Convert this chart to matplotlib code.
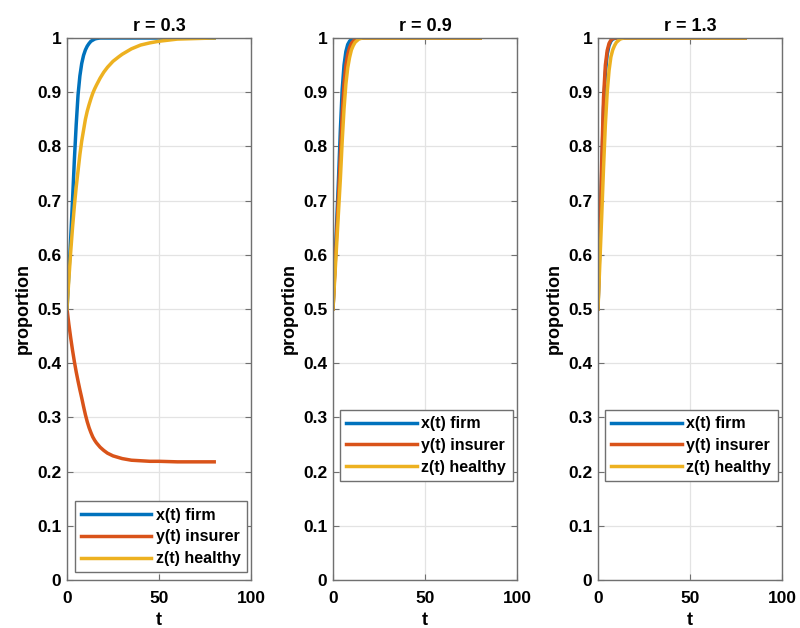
import numpy as np
import matplotlib
matplotlib.use("Agg")
import matplotlib.pyplot as plt
from matplotlib import font_manager

installed = {f.name for f in font_manager.fontManager.ttflist}
main_font = "Liberation Sans Narrow" if "Liberation Sans Narrow" in installed else "Liberation Sans"
plt.rcParams["font.family"] = [main_font, "DejaVu Sans"]

# --------- Data ---------
r_values = ["0.3", "0.9", "1.3"]

# r = 0.3 (slow panel)
t_slow = [0, 1, 2, 3, 4, 5, 6, 7, 8, 9, 10, 11, 12, 13, 14, 15, 16,
          18, 20, 22, 25, 28, 30, 35, 40, 45, 50, 60, 70, 80]
x_r03 = [0.5, 0.565, 0.63, 0.70, 0.775, 0.84, 0.895, 0.93, 0.953, 0.968, 0.978, 0.985, 0.99,
         0.994, 0.996, 0.998, 0.999, 1, 1, 1, 1, 1, 1, 1, 1, 1, 1, 1, 1, 1]
y_r03 = [0.5, 0.472, 0.447, 0.424, 0.403, 0.384, 0.367, 0.351, 0.336, 0.32, 0.305, 0.292, 0.281,
         0.272, 0.264, 0.258, 0.253, 0.245, 0.239, 0.234, 0.229, 0.226, 0.224, 0.221, 0.22,
         0.219, 0.219, 0.218, 0.218, 0.218]
z_r03 = [0.5, 0.555, 0.605, 0.65, 0.69, 0.725, 0.755, 0.785, 0.81, 0.83, 0.85, 0.865, 0.877,
         0.888, 0.898, 0.906, 0.913, 0.926, 0.937, 0.946, 0.957, 0.965, 0.97, 0.98, 0.987,
         0.991, 0.994, 0.998, 0.999, 1.0]

# r = 0.9 and r = 1.3 (fast panels)
t_fast = [0, 1, 2, 3, 4, 5, 6, 7, 8, 9, 10, 11, 12, 13, 14, 15, 16, 20, 30, 40, 50, 60, 70, 80]
x_r09 = [0.5, 0.58, 0.66, 0.74, 0.83, 0.905, 0.95, 0.975, 0.988, 0.994, 0.998, 0.999, 1,
         1, 1, 1, 1, 1, 1, 1, 1, 1, 1, 1]
y_r09 = [0.5, 0.57, 0.64, 0.71, 0.785, 0.86, 0.915, 0.95, 0.97, 0.982, 0.99, 0.994, 0.997,
         0.999, 1, 1, 1, 1, 1, 1, 1, 1, 1, 1]
z_r09 = [0.5, 0.56, 0.62, 0.68, 0.74, 0.81, 0.87, 0.915, 0.945, 0.964, 0.978, 0.986, 0.992,
         0.995, 0.998, 0.999, 1, 1, 1, 1, 1, 1, 1, 1]

x_r13 = [0.5, 0.62, 0.75, 0.87, 0.935, 0.97, 0.986, 0.994, 0.998, 0.999, 1, 1, 1,
         1, 1, 1, 1, 1, 1, 1, 1, 1, 1, 1]
y_r13 = [0.5, 0.63, 0.77, 0.89, 0.95, 0.977, 0.99, 0.996, 0.999, 1, 1, 1, 1,
         1, 1, 1, 1, 1, 1, 1, 1, 1, 1, 1]
z_r13 = [0.5, 0.585, 0.67, 0.76, 0.84, 0.90, 0.94, 0.965, 0.978, 0.986, 0.992, 0.995, 0.998,
         0.999, 1, 1, 1, 1, 1, 1, 1, 1, 1, 1]

times = [t_slow, t_fast, t_fast]
series = [(x_r03, y_r03, z_r03), (x_r09, y_r09, z_r09), (x_r13, y_r13, z_r13)]
labels = ["x(t) firm", "y(t) insurer", "z(t) healthy"]
colors = ["#0072BD", "#D95319", "#EDB120"]

# legend anchor (axes fraction, lower-left corner) per panel
legend_anchor = [(0.015, 0.005), (0.012, 0.174), (0.012, 0.174)]

# --------- Plot ---------
fig = plt.figure(figsize=(8, 6.28), dpi=100)
lefts = [67, 333, 598]
for i, (left, r) in enumerate(zip(lefts, r_values)):
    ax = fig.add_axes([left / 800, 48 / 628, 184 / 800, 542 / 628])
    for vals, lab, c in zip(series[i], labels, colors):
        ax.plot(times[i], vals, color=c, lw=2.5, label=lab)
    ax.set_xlim(0, 100)
    ax.set_ylim(0, 1)
    ax.set_xticks([0, 50, 100])
    ax.set_yticks(np.round(np.arange(0, 1.01, 0.1), 1))
    ax.set_yticklabels(["0"] + [f"{v:.1f}" for v in np.arange(0.1, 0.95, 0.1)] + ["1"])
    ax.grid(True, color="#e3e3e3", lw=0.9)
    ax.set_axisbelow(True)
    for s in ax.spines.values():
        s.set_color("#707070")
        s.set_linewidth(1.0)
    ax.tick_params(direction="in", length=4, color="#707070", labelsize=12.5,
                   top=True, right=True)
    ax.tick_params(axis="x", pad=8)
    ax.tick_params(axis="y", pad=4)
    for lbl in ax.get_xticklabels() + ax.get_yticklabels():
        lbl.set_fontweight("bold")
    ax.set_title(f"r = {r}", fontsize=13, fontweight="bold", pad=5)
    ax.set_xlabel("t", fontsize=13, fontweight="bold", labelpad=4)
    ax.set_ylabel("proportion", fontsize=13, fontweight="bold", labelpad=4)
    leg = ax.legend(loc="lower left", bbox_to_anchor=legend_anchor[i],
                    prop={"size": 11.5, "weight": "bold"},
                    handlelength=4.4, handletextpad=0.3, labelspacing=0.42,
                    borderpad=0.4, fancybox=False, framealpha=1, borderaxespad=0.3)
    leg.get_frame().set_edgecolor("#707070")
    leg.get_frame().set_linewidth(1.0)

plt.savefig("out.png", dpi=100)
